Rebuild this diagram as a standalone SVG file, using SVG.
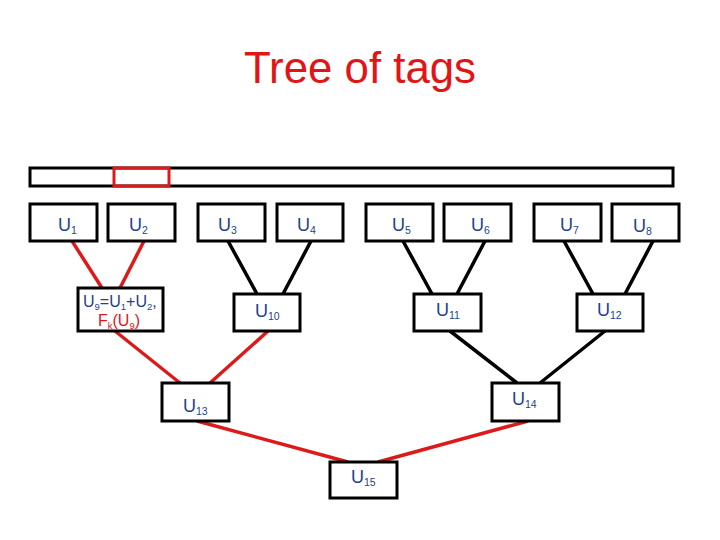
<svg xmlns="http://www.w3.org/2000/svg" width="720" height="540" viewBox="0 0 720 540">
<style>
.bx{fill:#fff;stroke:#000;stroke-width:3}
.lb{font-family:"Liberation Sans",Arial,sans-serif;font-size:18px;fill:#1f3f8f}
.sm{font-size:16px}
.sb{font-size:10.5px}
.sm .sb{font-size:9.5px}
.rd{fill:#e0141a}
.ln{stroke:#000;stroke-width:3.5;fill:none}
.lr{stroke:#dc1a1a;stroke-width:3.5;fill:none}
.title{font-family:"Liberation Sans",Arial,sans-serif;font-size:43.5px;fill:#e31414}
</style>
<rect width="720" height="540" fill="#fff"/>
<text class="title" x="360" y="83" text-anchor="middle" textLength="232" lengthAdjust="spacingAndGlyphs">Tree of tags</text>
<g id="tagbar">
<rect x="30" y="168" width="643" height="18" fill="#fff" stroke="#000" stroke-width="3"/>
<rect x="114" y="168" width="55" height="18" fill="none" stroke="#dc1a1a" stroke-width="3"/>
</g>
<g id="connectors">
<line class="lr" x1="72" y1="241" x2="102" y2="288"/>
<line class="lr" x1="144" y1="241" x2="120" y2="288"/>
<line class="ln" x1="228" y1="241" x2="257" y2="294"/>
<line class="ln" x1="311" y1="241" x2="283" y2="294"/>
<line class="ln" x1="403" y1="241" x2="432" y2="294"/>
<line class="ln" x1="485" y1="241" x2="457" y2="294"/>
<line class="ln" x1="564" y1="241" x2="593" y2="294"/>
<line class="ln" x1="653" y1="241" x2="625" y2="294"/>
<line class="lr" x1="115" y1="331" x2="180" y2="383"/>
<line class="lr" x1="268" y1="331" x2="210" y2="383"/>
<line class="ln" x1="450" y1="331" x2="517" y2="383"/>
<line class="ln" x1="605" y1="331" x2="540" y2="383"/>
<line class="lr" x1="197" y1="421" x2="348" y2="462"/>
<line class="lr" x1="528" y1="421" x2="378" y2="462"/>
</g>
<g id="u1"><rect class="bx" x="30" y="204" width="67" height="37"/><text class="lb" x="58" y="231">U<tspan class="sb" dy="3">1</tspan></text></g>
<g id="u2"><rect class="bx" x="108" y="204" width="67" height="37"/><text class="lb" x="129" y="231">U<tspan class="sb" dy="3">2</tspan></text></g>
<g id="u3"><rect class="bx" x="198" y="204" width="67" height="37"/><text class="lb" x="218" y="231">U<tspan class="sb" dy="3">3</tspan></text></g>
<g id="u4"><rect class="bx" x="277" y="204" width="66" height="37"/><text class="lb" x="297" y="231">U<tspan class="sb" dy="3">4</tspan></text></g>
<g id="u5"><rect class="bx" x="366" y="204" width="67" height="37"/><text class="lb" x="392" y="231">U<tspan class="sb" dy="3">5</tspan></text></g>
<g id="u6"><rect class="bx" x="444" y="204" width="67" height="37"/><text class="lb" x="471" y="231">U<tspan class="sb" dy="3">6</tspan></text></g>
<g id="u7"><rect class="bx" x="534" y="204" width="67" height="37"/><text class="lb" x="560" y="231">U<tspan class="sb" dy="3">7</tspan></text></g>
<g id="u8"><rect class="bx" x="612" y="204" width="67" height="37"/><text class="lb" x="633" y="232">U<tspan class="sb" dy="3">8</tspan></text></g>
<g id="u9"><rect class="bx" x="78" y="288" width="85" height="43"/>
<text class="lb sm" x="83" y="307">U<tspan class="sb" dy="3">9</tspan><tspan dy="-3">=U</tspan><tspan class="sb" dy="3">1</tspan><tspan dy="-3">+U</tspan><tspan class="sb" dy="3">2</tspan><tspan dy="-3">,</tspan></text>
<text class="lb sm rd" x="98" y="326">F<tspan class="sb" dy="3">k</tspan><tspan dy="-3">(U</tspan><tspan class="sb" dy="3">9</tspan><tspan dy="-3">)</tspan></text></g>
<g id="u10"><rect class="bx" x="234" y="294" width="66" height="37"/><text class="lb" x="255" y="317">U<tspan class="sb" dy="3">10</tspan></text></g>
<g id="u11"><rect class="bx" x="414" y="294" width="67" height="37"/><text class="lb" x="436" y="316">U<tspan class="sb" dy="3">11</tspan></text></g>
<g id="u12"><rect class="bx" x="577" y="294" width="66" height="37"/><text class="lb" x="597" y="316">U<tspan class="sb" dy="3">12</tspan></text></g>
<g id="u13"><rect class="bx" x="162" y="383" width="67" height="38"/><text class="lb" x="183" y="412">U<tspan class="sb" dy="3">13</tspan></text></g>
<g id="u14"><rect class="bx" x="492" y="383" width="67" height="38"/><text class="lb" x="512" y="405">U<tspan class="sb" dy="3">14</tspan></text></g>
<g id="u15"><rect class="bx" x="330" y="462" width="67" height="36"/><text class="lb" x="351" y="483">U<tspan class="sb" dy="3">15</tspan></text></g>
</svg>
